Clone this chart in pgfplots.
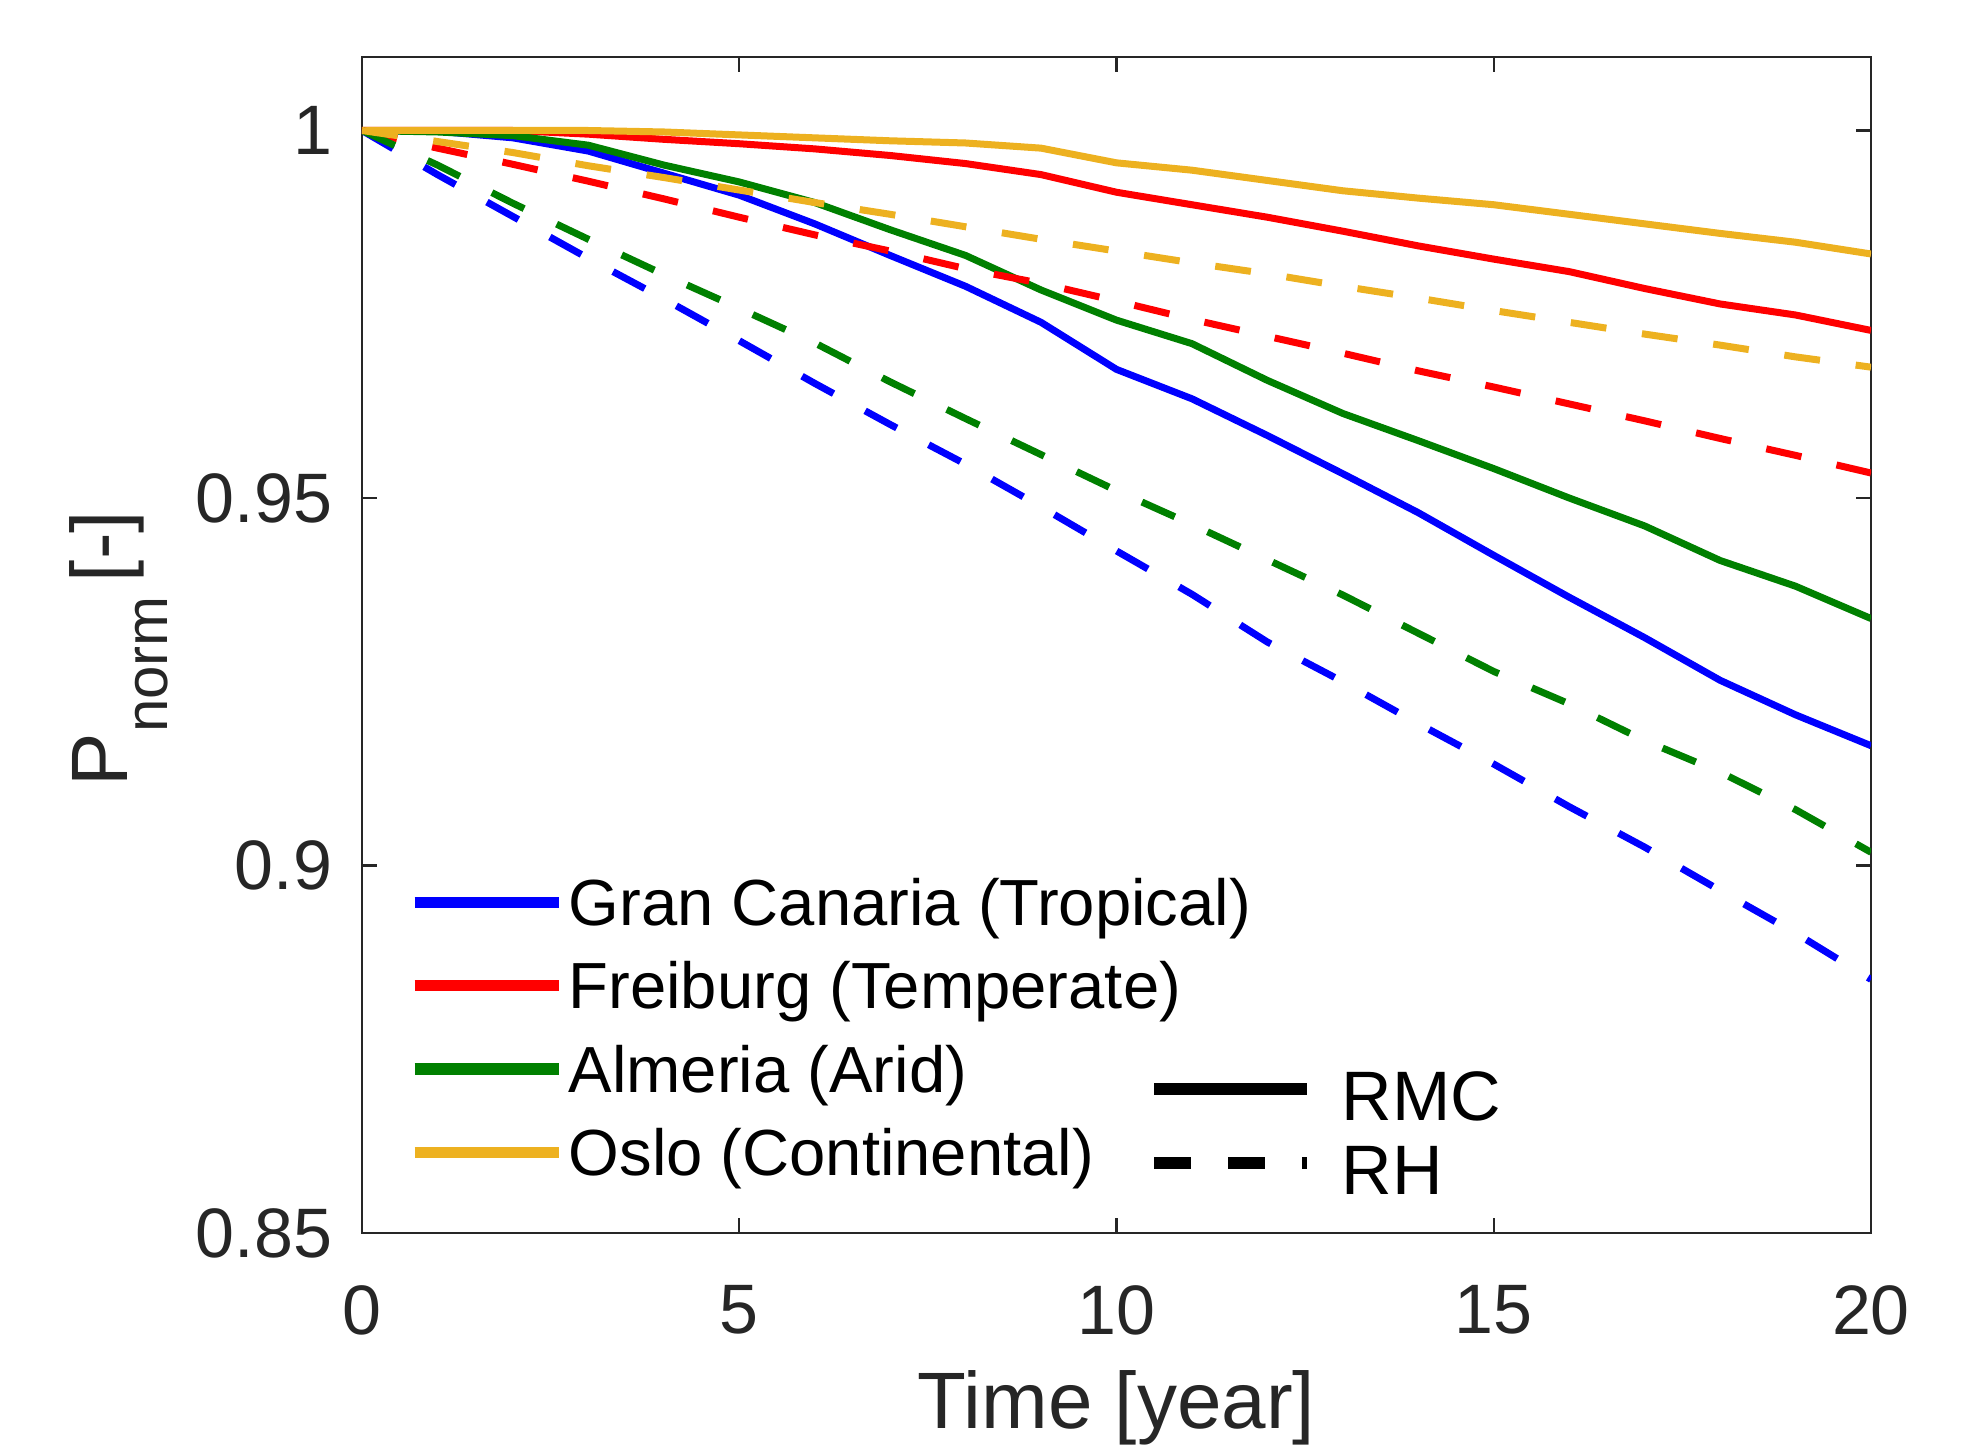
\documentclass[border=0pt]{standalone}
\usepackage{fontspec}
\setmainfont{Liberation Sans}
\usepackage{pgfplots}
\pgfplotsset{compat=1.18}
\definecolor{mblue}{RGB}{0,0,255}
\definecolor{mred}{RGB}{255,0,0}
\definecolor{mgreen}{RGB}{0,128,0}
\definecolor{morange}{RGB}{237,177,32}
\definecolor{axgray}{RGB}{38,38,38}
\begin{document}
\begin{tikzpicture}
\path[use as bounding box] (0,0) rectangle (493pt,362pt);
\begin{axis}[
  at={(90.5pt,53.75pt)}, anchor=south west,
  scale only axis, width=377.25pt, height=294pt,
  xmin=0, xmax=20, ymin=0.85, ymax=1.01,
  xtick={0,5,10,15,20}, ytick={0.85,0.9,0.95,1},
  xticklabels={0,5,10,15,20}, yticklabels={0.85,0.9,0.95,1},
  minor tick num=0,
  tick align=inside, major tick length=3.75pt,
  axis line style={color=axgray, line width=0.6pt},
  every tick/.style={color=axgray, line width=0.6pt},
  /pgf/number format/assume math mode=true,
  ticklabel style={font=\fontsize{17.5}{17.5}\selectfont, color=axgray, inner sep=0pt},
  yticklabel style={anchor=east, xshift=-7.25pt},
  xticklabel style={anchor=north, yshift=-13pt},
  xlabel={Time [year]},
  xlabel style={at={(axis description cs:0.5,0)}, anchor=base, yshift=-48.75pt, font=\fontsize{20}{20}\selectfont, color=axgray, inner sep=0pt},
  ylabel={P\raisebox{-10pt}{\fontsize{15}{15}\selectfont norm}\hspace{3.5pt}[-]},
  ylabel style={at={(axis description cs:-0.1551,0.497)}, anchor=base, font=\fontsize{20}{20}\selectfont, color=axgray, inner sep=0pt},
  legend style={at={(0.0312,0.301)}, anchor=north west, draw=none, fill=none,
    inner sep=0pt, outer sep=0pt, font=\fontsize{16.3}{16.3}\selectfont,
    row sep=9.25pt, column sep=1.1pt,
    nodes={inner sep=0pt, text height=11.6pt, text depth=0pt, text=black}},
  legend cell align=left,
  legend image code/.code={\draw[#1, line width=2.8pt, solid] (0pt,0pt) -- (36pt,0pt);},
  every axis plot/.append style={line width=1.75pt},
]
% RMC (solid)
\addplot[mblue, solid] coordinates {
(0,1.0) (1,0.9999) (2,0.9990) (3,0.9972) (4,0.9942) (5,0.9912) (6,0.9873) (7,0.9830)
(8,0.9788) (9,0.9739) (10,0.9675) (11,0.9635) (12,0.9585) (13,0.9533) (14,0.9480)
(15,0.9422) (16,0.9365) (17,0.9310) (18,0.9252) (19,0.9205) (20,0.9163)};
\addlegendentry{Gran Canaria (Tropical)}
\addplot[mred, solid] coordinates {
(0,1.0) (1,1.0) (2,1.0) (3,0.9995) (4,0.9988) (5,0.9982) (6,0.9975) (7,0.9966)
(8,0.9955) (9,0.9940) (10,0.9916) (11,0.9899) (12,0.9882) (13,0.9863) (14,0.9843)
(15,0.9825) (16,0.9808) (17,0.9785) (18,0.9764) (19,0.9749) (20,0.9728)};
\addlegendentry{Freiburg (Temperate)}
\addplot[mgreen, solid] coordinates {
(0,1.0) (1,0.9998) (2,0.9993) (3,0.9980) (4,0.9953) (5,0.9930) (6,0.9902) (7,0.9865)
(8,0.9830) (9,0.9783) (10,0.9742) (11,0.9710) (12,0.9660) (13,0.9615) (14,0.9578)
(15,0.9540) (16,0.9500) (17,0.9462) (18,0.9415) (19,0.9380) (20,0.9336)};
\addlegendentry{Almeria (Arid)}
\addplot[morange, solid] coordinates {
(0,1.0) (1,1.0) (2,1.0) (3,1.0) (4,0.9998) (5,0.9994) (6,0.9990) (7,0.9986)
(8,0.9983) (9,0.9976) (10,0.9956) (11,0.9946) (12,0.9932) (13,0.9918) (14,0.9908)
(15,0.9899) (16,0.9886) (17,0.9873) (18,0.9860) (19,0.9848) (20,0.9832)};
\addlegendentry{Oslo (Continental)}
% RH (dashed)
\addplot[mblue, dash pattern=on 9pt off 9pt, forget plot] coordinates {
(0,1.0) (1,0.9940) (2,0.9883) (3,0.9826) (4,0.9771) (5,0.9714) (6,0.9656) (7,0.9600)
(8,0.9546) (9,0.9488) (10,0.9428) (11,0.9369) (12,0.9304) (13,0.9250) (14,0.9193)
(15,0.9138) (16,0.9080) (17,0.9025) (18,0.8966) (19,0.8908) (20,0.8845)};
\addplot[mred, dash pattern=on 9pt off 9pt, forget plot] coordinates {
(0,1.0) (1,0.9976) (2,0.9954) (3,0.9931) (4,0.9907) (5,0.9882) (6,0.9858) (7,0.9836)
(8,0.9812) (9,0.9792) (10,0.9768) (11,0.9743) (12,0.9720) (13,0.9697) (14,0.9673)
(15,0.9651) (16,0.9628) (17,0.9605) (18,0.9581) (19,0.9558) (20,0.9534)};
\addplot[mgreen, dash pattern=on 9pt off 9pt, forget plot] coordinates {
(0,1.0) (1,0.9953) (2,0.9901) (3,0.9852) (4,0.9804) (5,0.9758) (6,0.9711) (7,0.9658)
(8,0.9608) (9,0.9559) (10,0.9510) (11,0.9464) (12,0.9416) (13,0.9368) (14,0.9316)
(15,0.9264) (16,0.9220) (17,0.9170) (18,0.9127) (19,0.9076) (20,0.9018)};
\addplot[morange, dash pattern=on 9pt off 9pt, forget plot] coordinates {
(0,1.0) (1,0.9985) (2,0.9970) (3,0.9952) (4,0.9936) (5,0.9919) (6,0.9902) (7,0.9886)
(8,0.9869) (9,0.9852) (10,0.9836) (11,0.9820) (12,0.9805) (13,0.9788) (14,0.9772)
(15,0.9755) (16,0.9739) (17,0.9723) (18,0.9708) (19,0.9692) (20,0.9678)};
\end{axis}
\begin{axis}[
  at={(90.5pt,53.75pt)}, anchor=south west,
  scale only axis, width=377.25pt, height=294pt,
  xmin=0, xmax=1, ymin=0, ymax=1, hide axis,
  legend style={at={(0.5209,0.1488)}, anchor=north west, draw=none, fill=none,
    inner sep=0pt, outer sep=0pt, font=\fontsize{17.5}{17.5}\selectfont,
    row sep=3pt, column sep=7.1pt,
    nodes={inner sep=0pt, text height=15.5pt, text depth=0pt, text=black}},
  legend cell align=left,
  legend image code/.code={\draw[#1, line width=3pt] (0pt,0pt) -- (38.25pt,0pt);},
]
\addlegendimage{black, solid}
\addlegendentry{RMC}
\addlegendimage{black, dash pattern=on 9.25pt off 9.25pt}
\addlegendentry{RH}
\end{axis}
\end{tikzpicture}
\end{document}
